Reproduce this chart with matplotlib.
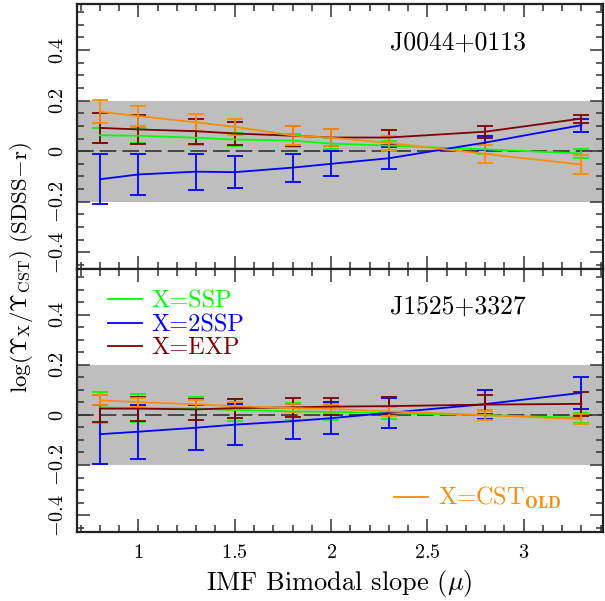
import matplotlib
matplotlib.use("Agg")
import matplotlib.pyplot as plt
from matplotlib.lines import Line2D
from matplotlib.ticker import MultipleLocator, FixedLocator, FixedFormatter

plt.rcParams["font.family"] = "cmr10"
plt.rcParams["mathtext.fontset"] = "cm"
plt.rcParams["axes.formatter.use_mathtext"] = True

# IMF bimodal slopes
mu = [0.8, 1.0, 1.3, 1.5, 1.8, 2.0, 2.3, 2.8, 3.3]

# J0044+0113
top_ssp = [0.063, 0.061, 0.053, 0.046, 0.042, 0.030, 0.022, 0.007, -0.009]
top_ssp_err = [0.030, 0.030, 0.028, 0.026, 0.024, 0.022, 0.020, 0.018, 0.016]
top_2ssp = [-0.111, -0.092, -0.081, -0.083, -0.065, -0.050, -0.028, 0.034, 0.103]
top_2ssp_err = [0.099, 0.081, 0.071, 0.063, 0.055, 0.049, 0.044, 0.028, 0.026]
top_exp = [0.092, 0.086, 0.079, 0.070, 0.061, 0.054, 0.054, 0.077, 0.129]
top_exp_err = [0.058, 0.056, 0.050, 0.045, 0.040, 0.035, 0.030, 0.024, 0.016]
top_cst = [0.156, 0.139, 0.114, 0.096, 0.062, 0.053, 0.033, -0.011, -0.053]
top_cst_err = [0.045, 0.039, 0.035, 0.032, 0.038, 0.033, 0.027, 0.034, 0.036]

# J1525+3327
bot_ssp = [0.030, 0.027, 0.025, 0.020, 0.014, 0.012, 0.007, -0.001, -0.012]
bot_ssp_err = [0.063, 0.056, 0.047, 0.043, 0.035, 0.032, 0.025, 0.020, 0.020]
bot_2ssp = [-0.077, -0.067, -0.051, -0.039, -0.025, -0.013, 0.008, 0.043, 0.088]
bot_2ssp_err = [0.117, 0.107, 0.090, 0.083, 0.070, 0.065, 0.060, 0.058, 0.063]
bot_exp = [0.025, 0.025, 0.022, 0.027, 0.030, 0.033, 0.035, 0.041, 0.044]
bot_exp_err = [0.053, 0.048, 0.043, 0.038, 0.037, 0.035, 0.035, 0.039, 0.048]
bot_cst = [0.058, 0.051, 0.042, 0.035, 0.027, 0.024, 0.014, -0.001, -0.017]
bot_cst_err = [0.020, 0.018, 0.017, 0.016, 0.016, 0.015, 0.018, 0.018, 0.020]

names = ["J0044+0113", "J1525+3327"]
labels = ["X=SSP", "X=2SSP", "X=EXP", r"X=CST$_{\mathbf{OLD}}$"]
colors = ["#00ff00", "#0000ff", "#800000", "#ff8c00"]

ytick_vals = [-0.4, -0.2, 0.0, 0.2, 0.4]
ytick_text = [r"$-0.4$", r"$-0.2$", r"$0$", r"$0.2$", r"$0.4$"]
xtick_vals = [1.0, 1.5, 2.0, 2.5, 3.0]
xtick_text = [r"$1$", r"$1.5$", r"$2$", r"$2.5$", r"$3$"]


def style_axis(ax):
    ax.set_xlim(0.68, 3.41)
    ax.set_ylim(-0.466, 0.582)
    ax.axhspan(-0.2, 0.2, color="#bebebe", lw=0, zorder=0)
    ax.axhline(0, color="#333333", lw=1.2, ls=(0, (10, 3.6)), zorder=1)
    ax.xaxis.set_major_locator(FixedLocator(xtick_vals))
    ax.xaxis.set_minor_locator(MultipleLocator(0.1))
    ax.yaxis.set_major_locator(FixedLocator(ytick_vals))
    ax.yaxis.set_major_formatter(FixedFormatter(ytick_text))
    ax.yaxis.set_minor_locator(MultipleLocator(0.05))
    ax.tick_params(which="both", direction="in", top=True, right=True,
                   width=1.1, color="#333333")
    ax.tick_params(which="major", length=9.5, labelsize=14.5)
    ax.tick_params(which="minor", length=4.7)
    ax.tick_params(axis="y", labelrotation=90, pad=7)
    for t in ax.get_yticklabels():
        t.set_va("center")
    for s in ax.spines.values():
        s.set_linewidth(1.6)
        s.set_color("#222222")


def draw_panel(ax, series, errs, name):
    style_axis(ax)
    for y, e, c in zip(series, errs, colors):
        ax.errorbar(mu, y, yerr=e, color=c, lw=1.3, elinewidth=1.3,
                    capsize=5.5, capthick=1.3, zorder=3)
    ax.text(0.595, 0.855, name, transform=ax.transAxes, fontsize=18.5,
            ha="left", va="center")


fig = plt.figure(figsize=(6.05, 6.01), dpi=100)
ax1 = fig.add_axes([0.127, 0.5524, 0.869, 0.4409])
ax2 = fig.add_axes([0.127, 0.1153, 0.869, 0.4371])

draw_panel(ax1, [top_ssp, top_2ssp, top_exp, top_cst],
           [top_ssp_err, top_2ssp_err, top_exp_err, top_cst_err], names[0])
draw_panel(ax2, [bot_ssp, bot_2ssp, bot_exp, bot_cst],
           [bot_ssp_err, bot_2ssp_err, bot_exp_err, bot_cst_err], names[1])

ax1.tick_params(axis="x", labelbottom=False)
ax2.xaxis.set_major_formatter(FixedFormatter(xtick_text))
ax2.tick_params(axis="x", pad=9)
ax2.set_xlabel(r"IMF Bimodal slope ($\mu$)", fontsize=19, labelpad=4)

fig.text(0.035, 0.555, r"$\log(\Upsilon_{\rm X}/\Upsilon_{\rm CST})$ (SDSS$-$r)",
         rotation=90, ha="center", va="center", fontsize=16.5)

handles = [Line2D([], [], color=c, lw=1.3) for c in colors]
leg1 = ax2.legend(handles[:3], labels[:3], loc="upper left",
                  bbox_to_anchor=(0.04, 0.955), frameon=False, fontsize=17.5,
                  handlelength=1.4, handletextpad=0.4, labelspacing=0.05,
                  borderaxespad=0, labelcolor="linecolor")
ax2.add_artist(leg1)
ax2.legend(handles[3:], labels[3:], loc="lower right",
           bbox_to_anchor=(0.94, 0.04), frameon=False, fontsize=17.5,
           handlelength=1.4, handletextpad=0.4, borderaxespad=0,
           labelcolor="linecolor")

fig.savefig("out.png", dpi=100)
